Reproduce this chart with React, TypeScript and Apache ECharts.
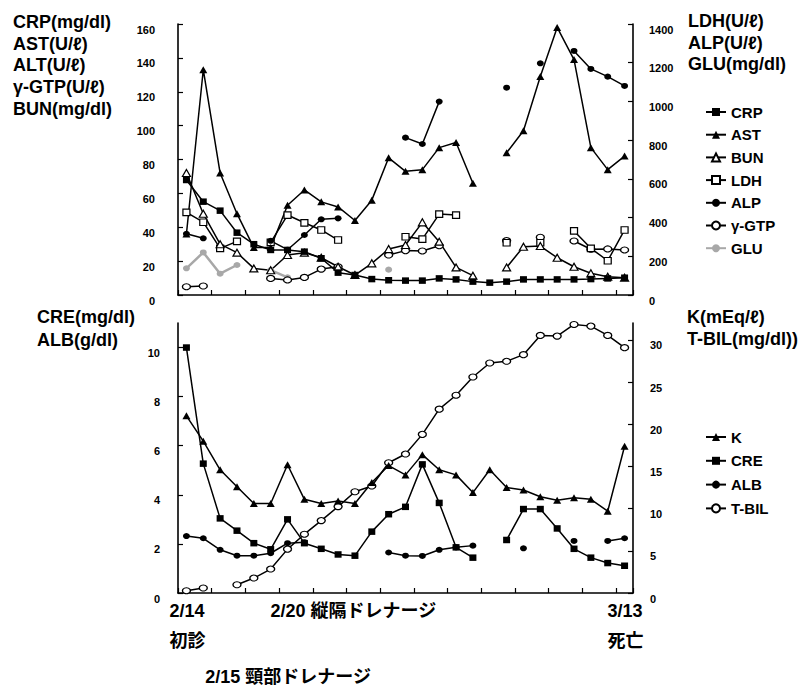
import React, { useEffect, useRef } from 'react';
import * as echarts from 'echarts';

// 27 observation days (2/14 … 3/13)
const days = ['1','2','3','4','5','6','7','8','9','10','11','12','13','14','15','16','17','18','19','20','21','22','23','24','25','26','27'];

// ---- upper panel ----
const crp = [67.9, 55.1, 49.8, 36.8, 30, 26.6, 26.6, 25.6, 21.7, 13.2, 11.8, 9.4, 8.7, 8.5, 8.5, 9.8, 9.2, 7.9, 7.3, 7.9, 9.2, 9.2, 9.2, 9.2, 9.4, 9.8, 10.2];
const ast = [36, 133, 72, 48, 28, 28, 53, 62, 55, 52, 44, 56, 81, 73, 74, 87, 90, 66, null, 84, 97, 129, 158, 139, 87, 74, 82];
const bun = [72, 48, 30, 25, 15.7, 14.6, 23.6, 25, 22, 16.7, 11.8, 18.7, 27.1, 29.5, 42.9, 31.5, 16.3, 11.4, null, 16.3, 28.5, 28.9, 22, 16.7, 12.8, 10.8, 10.2];
const ldh = [427, 376, 241, 277, null, 272, 413, 373, 336, 284, null, null, null, 301, 289, 418, 413, null, null, 270, null, 270, null, 331, 241, 177, 336];
const alp = [316, 293, null, null, null, 280, 234, 310, 391, 396, null, null, null, 813, 780, 999, null, null, null, 1071, null, 1197, null, 1261, 1168, 1128, 1080];
const ggt = [4.9, 5.3, null, null, null, 9.8, 8.9, 10.4, 15.3, 16.7, null, null, 23.6, 26.2, 26, 29.1, null, null, null, 32.1, null, 34.1, null, 31.9, 27, 27.2, 26.6];
const glu = [138, 220, 110, 155, null, 129, 91, null, null, null, null, null, 131, null, null, null, null, null, null, null, null, null, null, null, null, null, null];

// ---- lower panel ----
const kVal = [21.0, 18.0, 14.6, 12.6, 10.6, 10.6, 15.2, 11.1, 10.6, 10.9, 10.6, 13.1, 15.1, 14.0, 16.4, 14.6, 14.0, 11.9, 14.6, 12.5, 12.2, 11.4, 11.0, 11.3, 11.1, 9.7, 17.4];
const cre = [10.0, 5.27, 3.04, 2.54, 2.03, 1.78, 3.0, 2.03, 1.8, 1.57, 1.52, 2.5, 3.21, 3.51, 5.24, 3.67, 1.86, 1.44, null, 2.16, 3.42, 3.42, 2.63, 1.8, 1.44, 1.22, 1.11];
const alb = [2.32, 2.23, 1.76, 1.52, 1.52, 1.62, 2.03, 2.07, null, null, null, null, 1.65, 1.52, 1.51, 1.76, 1.86, 1.93, null, null, 1.82, null, null, 2.12, null, 2.12, 2.23];
const tbil = [0.27, 0.59, null, 0.98, 1.77, 2.84, 5.2, 6.97, 8.58, 10.24, 12.0, 12.68, 15.44, 16.47, 18.8, 21.79, 23.44, 25.6, 27.26, 27.46, 28.25, 30.53, 30.45, 31.83, 31.63, 30.53, 29.08];

// axis ticks
const upperLeftTicks = { min: 0, max: 160, interval: 20 };
const upperRightTicks = { min: 0, max: 1400, interval: 200 };
const lowerLeftTicks = [0, 2, 4, 6, 8, 10];
const lowerLeftMax = 11;
const lowerRightTicks = [0, 5, 10, 15, 20, 25, 30];
const lowerRightMax = 32;

// annotations under the time axis: row 0 = date, row 1 = event, row 2 = extra line
const notes = [
  { index: 0, text: '2/14', row: 0 },
  { index: 0, text: '初診', row: 1 },
  { index: 6, text: '2/20 縦隔ドレナージ', row: 0 },
  { index: 26, text: '3/13', row: 0 },
  { index: 26, text: '死亡', row: 1 },
  { index: 1, text: '2/15 頸部ドレナージ', row: 2 },
];

const FONT = '"Liberation Sans", Arial, "Noto Sans CJK JP", sans-serif';
const BLACK = '#000';
const GRAY = '#a8a8a8';

function mk(name: string, data: any[], xi: number, yi: number, symbol: string, size: any, fill: string, lineColor = BLACK, lineWidth = 1.5) {
  return {
    type: 'line',
    name,
    data,
    xAxisIndex: xi,
    yAxisIndex: yi,
    symbol,
    symbolSize: size,
    showSymbol: true,
    showAllSymbol: true,
    connectNulls: false,
    lineStyle: { color: lineColor, width: lineWidth },
    itemStyle: { color: fill, borderColor: lineColor, borderWidth: fill === '#fff' ? 1.2 : 0 },
    emphasis: { disabled: true },
  };
}

const axisLine = { show: true, lineStyle: { color: BLACK, width: 1.6 } };
const tick = { show: true, inside: true, length: 5, lineStyle: { color: BLACK, width: 1.2 } };
const lbl = (margin: number) => ({
  margin, fontSize: 11, fontWeight: 'bold', color: BLACK, fontFamily: FONT, verticalAlign: 'top',
  formatter: (v: number) => String(v),
});

export default function App() {
  const ref = useRef<HTMLDivElement>(null);
  useEffect(() => {
    if (!ref.current) return;
    const chart = echarts.init(ref.current, null, { renderer: 'svg' });
    const xa = (gi: number) => ({
      type: 'category', gridIndex: gi, data: days, boundaryGap: true,
      axisLine, axisTick: { ...tick, interval: 1 }, axisLabel: { show: false }, splitLine: { show: false },
    });
    const option: any = {
      animation: false,
      backgroundColor: '#fff',
      grid: [
        { left: 178, top: 24, width: 455, height: 271 },
        { left: 178, top: 323, width: 455, height: 270 },
      ],
      xAxis: [xa(0), xa(1)],
      yAxis: [
        { type: 'value', gridIndex: 0, position: 'left', ...upperLeftTicks, axisLine, axisTick: tick, splitLine: { show: false }, axisLabel: lbl(23) },
        { type: 'value', gridIndex: 0, position: 'right', ...upperRightTicks, axisLine, axisTick: tick, splitLine: { show: false }, axisLabel: lbl(16) },
        { type: 'value', gridIndex: 1, position: 'left', min: 0, max: lowerLeftMax, interval: 2, axisLine,
          axisTick: { ...tick, customValues: lowerLeftTicks }, splitLine: { show: false }, axisLabel: { ...lbl(18), customValues: lowerLeftTicks } },
        { type: 'value', gridIndex: 1, position: 'right', min: 0, max: lowerRightMax, interval: 5, axisLine,
          axisTick: { ...tick, customValues: lowerRightTicks }, splitLine: { show: false }, axisLabel: { ...lbl(17), customValues: lowerRightTicks } },
      ],
      legend: [
        {
          data: ['CRP', 'AST', 'BUN', 'LDH', 'ALP', 'γ-GTP', 'GLU'],
          orient: 'vertical', left: 700, top: 99, itemWidth: 20, itemHeight: 10, itemGap: 6.7,
          textStyle: { fontSize: 15, fontWeight: 'bold', color: BLACK, fontFamily: FONT, lineHeight: 16 },
          selectedMode: false,
        },
        {
          data: ['K', 'CRE', 'ALB', 'T-BIL'],
          orient: 'vertical', left: 700, top: 424, itemWidth: 20, itemHeight: 10, itemGap: 7.8,
          textStyle: { fontSize: 15, fontWeight: 'bold', color: BLACK, fontFamily: FONT, lineHeight: 16 },
          selectedMode: false,
        },
      ],
      series: [
        mk('GLU', glu, 0, 1, 'circle', [7, 6], GRAY, GRAY, 2.5),
        mk('γ-GTP', ggt, 0, 0, 'circle', [8, 6], '#fff'),
        mk('LDH', ldh, 0, 1, 'rect', [7, 6.5], '#fff'),
        mk('BUN', bun, 0, 0, 'triangle', [8, 7], '#fff'),
        mk('ALP', alp, 0, 1, 'circle', [7, 6], BLACK),
        mk('CRP', crp, 0, 0, 'rect', [7, 6.5], BLACK),
        mk('AST', ast, 0, 0, 'triangle', [8, 7], BLACK),
        mk('T-BIL', tbil, 1, 3, 'circle', [8, 6], '#fff'),
        mk('ALB', alb, 1, 2, 'circle', [7, 6], BLACK),
        mk('CRE', cre, 1, 2, 'rect', [7, 6.5], BLACK),
        mk('K', kVal, 1, 3, 'triangle', [8, 7], BLACK),
      ],
    };
    chart.setOption(option);

    const titleFont = `bold 18px ${FONT}`;
    const rowY = [611, 641, 677];
    const noteEls = notes.map((n) => {
      const px = chart.convertToPixel({ xAxisIndex: 1 } as any, n.index) as number;
      const x = n.row === 2 ? px + 2 : px - 17;
      return {
        type: 'text', x, y: rowY[n.row],
        style: { text: n.text, font: titleFont, fill: BLACK, verticalAlign: 'middle', align: 'left' },
      };
    });
    chart.setOption({
      graphic: [
        { type: 'text', x: 13, y: 11, style: { text: 'CRP(mg/dl)\nAST(U/ℓ)\nALT(U/ℓ)\nγ-GTP(U/ℓ)\nBUN(mg/dl)', font: titleFont, lineHeight: 21.7, fill: BLACK } },
        { type: 'text', x: 688, y: 10, style: { text: 'LDH(U/ℓ)\nALP(U/ℓ)\nGLU(mg/dl)', font: titleFont, lineHeight: 21.7, fill: BLACK } },
        { type: 'text', x: 37, y: 306, style: { text: 'CRE(mg/dl)\nALB(g/dl)', font: titleFont, lineHeight: 22.5, fill: BLACK } },
        { type: 'text', x: 687, y: 306, style: { text: 'K(mEq/ℓ)\nT-BIL(mg/dl))', font: titleFont, lineHeight: 22, fill: BLACK } },
        ...noteEls,
      ],
    });
    return () => chart.dispose();
  }, []);
  return <div ref={ref} style={{ position: 'absolute', left: 0, top: 0, width: 803, height: 687 }} />;
}
